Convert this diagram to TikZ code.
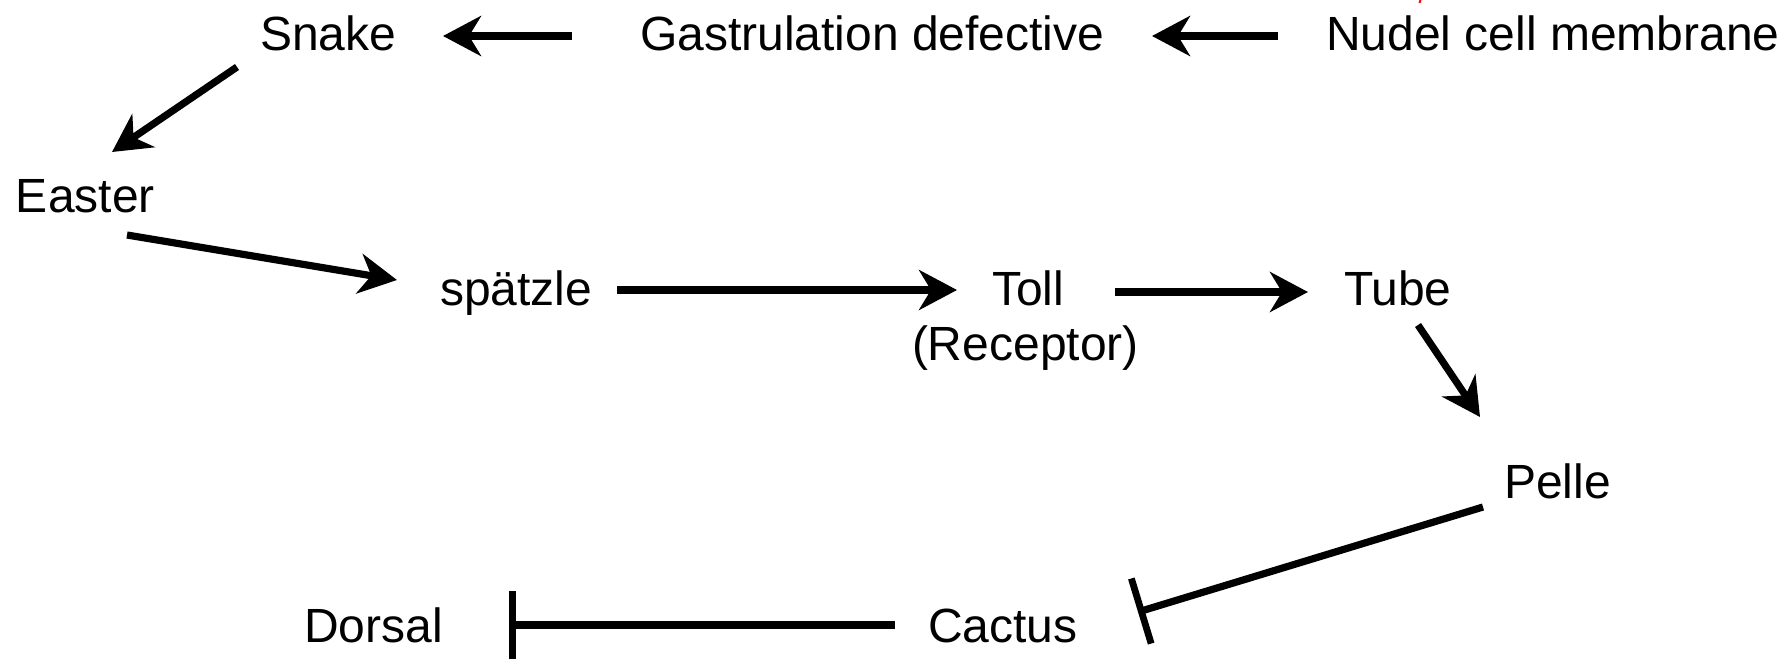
\documentclass[tikz,border=0pt]{standalone}
\usepackage{fontspec}
\setmainfont{Liberation Sans}
\usetikzlibrary{arrows.meta,calc}

\tikzset{
  lbl/.style={anchor=base west, inner sep=0pt, outer sep=0pt,
              font=\fontsize{24pt}{28pt}\selectfont},
  arr/.style={line width=3.6pt, -{Stealth[length=19pt, width=20pt, inset=6pt]}},
  inhib/.style={line width=3.6pt, -{Bar[width=34pt, line width=3.4pt]}},
}

\begin{document}
\begin{tikzpicture}[x=0.5pt, y=-0.5pt]
  \useasboundingbox (0,0) rectangle (1787,670);

  % gene / protein labels (base-left corners)
  \node[lbl] (snake)    at (260,50)   {Snake};
  \node[lbl] (gast)     at (640,50)   {Gastrulation defective};
  \node[lbl] (nudel)    at (1326,50)  {Nudel cell membrane};
  \node[lbl] (easter)   at (16,212)   {Easter};
  \node[lbl] (spaetzle) at (440,305)  {spätzle};
  \node[lbl] (toll)     at (992,305)  {Toll};
  \node[lbl] (receptor) at (912,360)  {(Receptor)};
  \node[lbl] (tube)     at (1344,305) {Tube};
  \node[lbl] (pelle)    at (1504,498) {Pelle};
  \node[lbl] (cactus)   at (928,642)  {Cactus};
  \node[lbl] (dorsal)   at (304,642)  {Dorsal};

  % activating steps
  \draw[arr] ($(nudel.base west)+(-48,-14)$) -- ($(gast.base west)+(512,-14)$);
  \draw[arr] ($(gast.base west)+(-68,-14)$) -- ($(snake.base west)+(183,-14)$);
  \draw[arr] ($(snake.base west)+(-23,17)$) -- ($(easter.base west)+(96,-60)$);
  \draw[arr] ($(easter.base west)+(111,23)$) -- ($(spaetzle.base west)+(-43,-25)$);
  \draw[arr] ($(spaetzle.base west)+(177,-15)$) -- ($(toll.base west)+(-35,-15)$);
  \draw[arr] ($(toll.base west)+(123,-13)$) -- ($(tube.base west)+(-36,-13)$);
  \draw[arr] ($(tube.base west)+(74,20)$) -- ($(pelle.base west)+(-24,-81)$);

  % inhibitory steps
  \draw[inhib] ($(pelle.base west)+(-21,9)$) -- ($(cactus.base west)+(210,-30)$);
  \draw[inhib] ($(cactus.base west)+(-33,-17)$) -- ($(dorsal.base west)+(205,-17)$);

  % small red tick at the top edge
  \draw[red, line width=1pt] (1420.5,0) -- (1419.5,3);
\end{tikzpicture}
\end{document}
